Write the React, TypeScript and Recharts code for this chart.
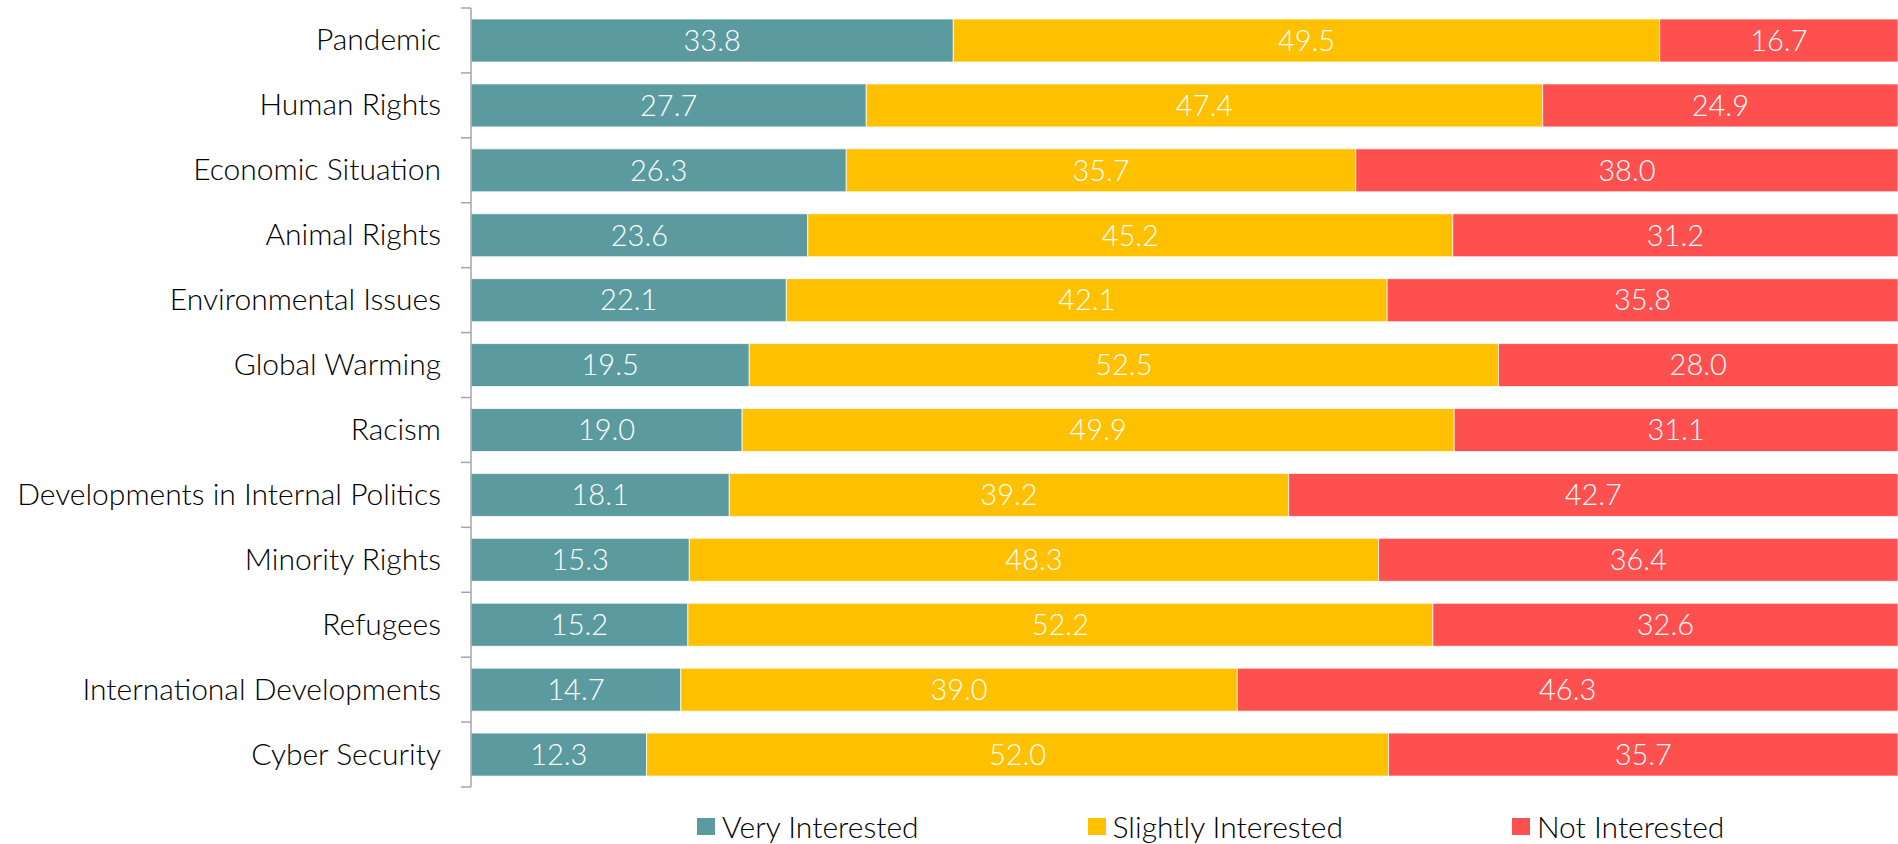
import React from 'react';
import { BarChart, Bar, XAxis, YAxis, LabelList, Legend } from 'recharts';

const categories = [
  'Pandemic',
  'Human Rights',
  'Economic Situation',
  'Animal Rights',
  'Environmental Issues',
  'Global Warming',
  'Racism',
  'Developments in Internal Politics',
  'Minority Rights',
  'Refugees',
  'International Developments',
  'Cyber Security',
];
const veryInterested = [33.8, 27.7, 26.3, 23.6, 22.1, 19.5, 19.0, 18.1, 15.3, 15.2, 14.7, 12.3];
const slightlyInterested = [49.5, 47.4, 35.7, 45.2, 42.1, 52.5, 49.9, 39.2, 48.3, 52.2, 39.0, 52.0];
const notInterested = [16.7, 24.9, 38.0, 31.2, 35.8, 28.0, 31.1, 42.7, 36.4, 32.6, 46.3, 35.7];
const seriesNames = ['Very Interested', 'Slightly Interested', 'Not Interested'];
const colors = ['#5B9BA0', '#FFC000', '#FF5050'];

const data = categories.map((c, i) => ({
  name: c,
  very: veryInterested[i],
  slightly: slightlyInterested[i],
  not: notInterested[i],
}));

const FONT = 'Lato, "Open Sans", sans-serif';
const TICK_SIZE = 10;
const TICK_MARGIN = 20;
const AXIS_GRAY = '#A6A6A6';

const LegendContent = () => (
  <div
    style={{
      display: 'flex',
      alignItems: 'center',
      paddingLeft: 697,
      paddingTop: 22,
      fontFamily: FONT,
      fontWeight: 300,
      fontSize: 30,
      color: '#000',
    }}
  >
    {seriesNames.map((n, i) => (
      <div key={n} style={{ display: 'flex', alignItems: 'center', marginRight: i < 2 ? 169 : 0 }}>
        <span style={{ display: 'inline-block', width: 18, height: 17, background: colors[i], marginRight: 7 }} />
        <span style={{ lineHeight: '34px' }}>{n}</span>
      </div>
    ))}
  </div>
);

const CategoryTick = (props: any) => {
  const { x, y, payload, index, visibleTicksCount } = props;
  const half = payload && payload.offset ? payload.offset : 0;
  const edge = x + TICK_SIZE + TICK_MARGIN;
  const isLast = index === (visibleTicksCount ?? categories.length) - 1;
  return (
    <g>
      <line x1={edge - TICK_SIZE} x2={edge} y1={y - half} y2={y - half} stroke={AXIS_GRAY} strokeWidth={1.5} />
      {isLast && <line x1={edge - TICK_SIZE} x2={edge} y1={y + half} y2={y + half} stroke={AXIS_GRAY} strokeWidth={1.5} />}
      <text
        x={x}
        y={y}
        dy={-2}
        textAnchor="end"
        dominantBaseline="central"
        fontFamily={FONT}
        fontWeight={300}
        fontSize={30}
        fill="#000"
      >
        {payload.value}
      </text>
    </g>
  );
};

const fmt = (v: any) => Number(v).toFixed(1);
const labelStyle = { fontFamily: FONT, fontWeight: 300, fontSize: 29 };

export default function App() {
  return (
    <div style={{ position: 'absolute', left: 0, top: 0, width: 1898, height: 844, background: '#fff' }}>
      <BarChart
        width={1898}
        height={844}
        data={data}
        layout="vertical"
        margin={{ top: 8, right: 0, bottom: 0, left: 0 }}
        barCategoryGap={11}
      >
        <XAxis type="number" domain={[0, 100]} hide />
        <YAxis
          type="category"
          dataKey="name"
          width={471}
          axisLine={{ stroke: AXIS_GRAY, strokeWidth: 1.5 }}
          tickLine={false}
          tickSize={TICK_SIZE}
          tickMargin={TICK_MARGIN}
          interval={0}
          tick={<CategoryTick />}
        />
        <Legend verticalAlign="bottom" height={57} content={<LegendContent />} wrapperStyle={{ left: 0, width: 1898 }} />
        <Bar dataKey="very" name={seriesNames[0]} stackId="s" fill={colors[0]} stroke="#ffffff" strokeWidth={0.75} isAnimationActive={false}>
          <LabelList dataKey="very" position="center" formatter={fmt} fill="#ffffff" style={labelStyle} />
        </Bar>
        <Bar dataKey="slightly" name={seriesNames[1]} stackId="s" fill={colors[1]} stroke="#ffffff" strokeWidth={0.75} isAnimationActive={false}>
          <LabelList dataKey="slightly" position="center" formatter={fmt} fill="#ffffff" style={labelStyle} />
        </Bar>
        <Bar dataKey="not" name={seriesNames[2]} stackId="s" fill={colors[2]} stroke="#ffffff" strokeWidth={0.75} isAnimationActive={false}>
          <LabelList dataKey="not" position="center" formatter={fmt} fill="#ffffff" style={labelStyle} />
        </Bar>
      </BarChart>
    </div>
  );
}
